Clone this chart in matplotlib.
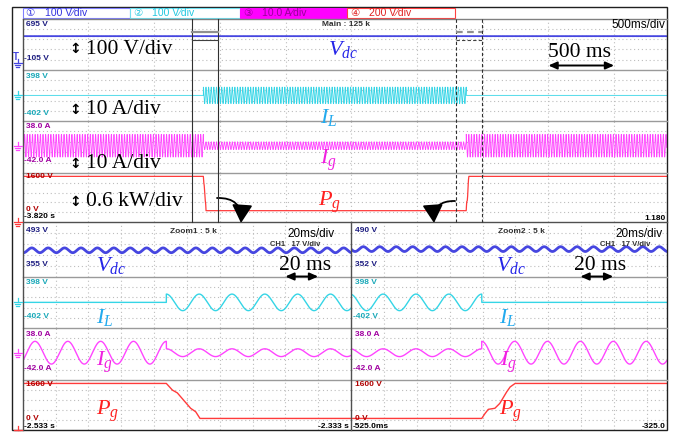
import numpy as np
import matplotlib
matplotlib.use("Agg")
import matplotlib.pyplot as plt
from matplotlib import transforms
from matplotlib.patches import Rectangle, FancyArrowPatch

plt.rcParams['mathtext.fontset'] = 'custom'
plt.rcParams['mathtext.rm'] = 'Liberation Serif'
plt.rcParams['mathtext.it'] = 'Liberation Serif:italic'

# ---------------- acquisition settings ----------------
channel_marks = ["\u2460", "\u2461", "\u2462", "\u2463"]
channel_scales = ["100 V\u2215div", "100 V\u2215div", "10.0 A\u2215div", "200 V\u2215div"]

main_start, main_div, main_visible_div = -3.820, 0.5, 9.8
zoom1_start, zoom_div, zoom1_visible_div = -2.533, 0.02, 10.0
zoom2_start, zoom2_visible_div = -0.525, 9.6

# vertical range of every strip (bottom, top)
main_ranges = [(-105, 695), (-402, 398), (-42.0, 38.0), (0, 1600)]
zoom1_ranges = [(355, 493), (-402, 398), (-42.0, 38.0), (0, 1600)]
zoom2_ranges = [(352, 490), (-402, 398), (-42.0, 38.0), (0, 1600)]

main_range_labels = [("695 V", "-105 V"), ("398 V", "-402 V"), ("38.0 A", "-42.0 A"), ("1600 V", "0 V")]
zoom1_range_labels = [("493 V", "355 V"), ("398 V", "-402 V"), ("38.0 A", "-42.0 A"), ("1600 V", "0 V")]
zoom2_range_labels = [("490 V", "352 V"), ("398 V", "-402 V"), ("38.0 A", "-42.0 A"), ("1600 V", "0 V")]

# ---------------- signal parameters ----------------
grid_freq = 50.0          # Hz
vdc_level = 422.0         # V
vdc_ripple = 6.0          # V, at twice the grid frequency
il_amp = 130.0            # probe units (10 A/div)
ig_amp_high = 17.5        # A
ig_amp_low = 6.0          # A
pg_high = 1490.0          # probe units (0.6 kW/div)
pg_low = 370.0
t_load_on = -2.4455       # s
t_load_off = -0.4455      # s
pg_fall_ms = [0.0, 3.7, 6.7, 14.8, 17.9, 20.5]
pg_fall_frac = [0.0, 0.19, 0.27, 0.71, 0.81, 1.0]
pg_rise_ms = [0.0, 2.0, 4.0, 8.0, 11.0, 15.2, 17.3, 20.3]
pg_rise_frac = [0.0, 0.14, 0.26, 0.29, 0.43, 0.76, 0.90, 1.0]

# ---------------- colours ----------------
trace_colors = ["#4646e0", "#35d5e6", "#ff45ff", "#ff3b3b"]
label_colors = ["#1c1c80", "#18a8b8", "#a000a0", "#b00000"]
name_colors = ["#2424e8", "#22aaee", "#f020e0", "#ff2020"]
names = [r"$V_{dc}$", r"$I_L$", r"$I_g$", r"$P_g$"]

W, H = 675, 432
fig = plt.figure(figsize=(W / 100, H / 100), dpi=100)
fig.patch.set_facecolor("white")


def rect(x0, y0, x1, y1):
    return [x0 / W, 1 - y1 / H, (x1 - x0) / W, (y1 - y0) / H]


ax0 = fig.add_axes([0, 0, 1, 1], zorder=5)
ax0.set_xlim(0, W)
ax0.set_ylim(H, 0)
ax0.axis("off")
ax0.patch.set_alpha(0)

LEFT, RIGHT, MID = 22.7, 666.7, 351.0
main_rows = [18.7, 70, 121, 173, 222]
zoom_rows = [222, 277, 328, 380, 430]


def make_strip(x0, x1, y0, y1, t0, tdiv, ndiv, ylim):
    ax = fig.add_axes(rect(x0, y0, x1, y1), zorder=2)
    ax.set_xlim(t0, t0 + tdiv * ndiv)
    ax.set_ylim(*ylim)
    ax.set_xticks(t0 + tdiv * np.arange(1, int(np.ceil(ndiv))))
    ax.set_yticks(np.linspace(ylim[0], ylim[1], 6)[1:-1])
    ax.grid(True, color="#bdbdbd", linestyle=(0, (1, 2.5)), linewidth=0.8)
    ax.tick_params(length=0, labelbottom=False, labelleft=False)
    for s in ax.spines.values():
        s.set_visible(False)
    ax.patch.set_alpha(0)
    return ax


main_axes = [make_strip(LEFT, RIGHT, main_rows[i], main_rows[i + 1], main_start, main_div,
                        main_visible_div, main_ranges[i]) for i in range(4)]
zoom1_axes = [make_strip(LEFT, MID, zoom_rows[i], zoom_rows[i + 1], zoom1_start, zoom_div,
                         zoom1_visible_div, zoom1_ranges[i]) for i in range(4)]
zoom2_axes = [make_strip(MID, RIGHT, zoom_rows[i], zoom_rows[i + 1], zoom2_start, zoom_div,
                         zoom2_visible_div, zoom2_ranges[i]) for i in range(4)]


def sample(ax, n):
    lo, hi = ax.get_xlim()
    t = np.linspace(lo, hi, n)
    edges = [s + d for s in (t_load_on, t_load_off) for d in (-1e-7, 1e-7) if lo < s < hi]
    return np.sort(np.concatenate([t, edges]))


def vdc_wave(t):
    return vdc_level + vdc_ripple * np.sin(2 * np.pi * 2 * grid_freq * t)


def il_wave(t):
    on = (t >= t_load_on) & (t < t_load_off)
    return np.where(on, il_amp * np.cos(2 * np.pi * grid_freq * (t - t_load_on)), 0.0)


def ig_wave(t):
    amp = np.where((t >= t_load_on) & (t < t_load_off), ig_amp_low, ig_amp_high)
    return amp * np.cos(2 * np.pi * grid_freq * (t - t_load_on))


def pg_trace():
    fall_t = t_load_on + np.array(pg_fall_ms) / 1000
    fall_v = pg_high - np.array(pg_fall_frac) * (pg_high - pg_low)
    rise_t = t_load_off + np.array(pg_rise_ms) / 1000
    rise_v = pg_low + np.array(pg_rise_frac) * (pg_high - pg_low)
    t = np.concatenate([[-10.0], fall_t, rise_t, [10.0]])
    v = np.concatenate([[pg_high], fall_v, rise_v, [pg_high]])
    return t, v


def draw_traces(axes, n, lws):
    t = sample(axes[0], n)
    axes[0].plot(t, vdc_wave(t), color=trace_colors[0], lw=lws[0])
    axes[1].plot(t, il_wave(t), color=trace_colors[1], lw=lws[1])
    axes[2].plot(t, ig_wave(t), color=trace_colors[2], lw=lws[2])
    pt, pv = pg_trace()
    axes[3].plot(pt, pv, color=trace_colors[3], lw=lws[3])


draw_traces(main_axes, 60000, [0.9, 0.6, 0.6, 0.9])
draw_traces(zoom1_axes, 6000, [2.0, 1.0, 1.0, 1.0])
draw_traces(zoom2_axes, 6000, [2.0, 1.0, 1.0, 1.0])

# ---------------- frame, separators ----------------
line_kw = dict(color="#9a9a9a", lw=1.0)
for y in main_rows[1:4] + zoom_rows[1:4]:
    ax0.plot([LEFT, RIGHT], [y, y], **line_kw)
ax0.plot([LEFT, RIGHT], [main_rows[0], main_rows[0]], color="#808080", lw=1.0)
ax0.plot([LEFT, RIGHT], [222, 222], color="#505050", lw=1.0)
ax0.plot([MID, MID], [222, 430], color="#505050", lw=1.0)
ax0.plot([LEFT, LEFT], [18.7, 430], color="#505050", lw=1.0)
ax0.add_patch(Rectangle((12, 6.7), RIGHT - 12, 430 - 6.7, fill=False, ec="#202020", lw=1.0))

# ---------------- header ----------------
header = [(22.7, 130, "#8080ff", "white", "#3030e0"),
          (130, 240, "#70e0f0", "white", "#20c8e0"),
          (240, 347, "#ff00ff", "#ff00ff", "#9a009a"),
          (347, 455, "#ff4040", "white", "#e02020")]
for (x0, x1, ec, fc, tc), mark, scale in zip(header, channel_marks, channel_scales):
    ax0.add_patch(Rectangle((x0, 7.5), x1 - x0, 10.5, fc=fc, ec=ec, lw=0.8))
    ax0.text(x0 + 3, 12.8, mark, color=tc, fontsize=7.5, va="center", ha="left",
             family=["DejaVu Sans"])
    ax0.text(x0 + 22, 12.8, scale, color=tc, fontsize=7.5, va="center", ha="left",
             family=["Liberation Sans", "DejaVu Sans"])

# ---------------- zoom window markers in the main view ----------------
mtr = transforms.blended_transform_factory(main_axes[0].transData, ax0.transData)
for (t0, ls) in [(zoom1_start, "-"), (zoom2_start, (0, (3, 2)))]:
    t1 = t0 + zoom_div * 10
    for tt in (t0, t1):
        ax0.plot([tt, tt], [18.7, 222], color="#303030", lw=0.8, ls=ls, transform=mtr)
    ax0.plot([t0, t1], [32.3, 32.3], color="#909090", lw=1.6, ls=ls, transform=mtr)
    ax0.plot([t0, t1], [40.3, 40.3], color="#404040", lw=0.8, ls=ls, transform=mtr)

# ---------------- scale arrows ----------------
def span_arrow(ax, t0, width, y):
    tr = transforms.blended_transform_factory(ax.transData, ax0.transData)
    ax0.annotate("", xy=(t0 + width, y), xytext=(t0, y), xycoords=tr, textcoords=tr,
                 arrowprops=dict(arrowstyle="<|-|>,head_length=0.5,head_width=0.22",
                                 color="black", lw=1.4, shrinkA=0, shrinkB=0))

span_arrow(main_axes[0], 0.18, 0.5, 65.5)
span_arrow(zoom1_axes[0], -2.373, 0.02, 276.5)
span_arrow(zoom2_axes[0], -0.3855, 0.02, 276.5)

serif = dict(family="Liberation Serif", fontsize=15.5, color="black", va="center")
ax0.text(580, 52.5, "500 ms", ha="center", **serif)
ax0.text(305, 265.5, "20 ms", ha="center", **serif)
ax0.text(600, 265.5, "20 ms", ha="center", **serif)

for y, s in [(49, "100 V/div"), (110, "10 A/div"), (164, "10 A/div"), (202, "0.6 kW/div")]:
    ax0.text(75, y, "\u2195", ha="center", va="center", fontsize=10, fontweight="bold",
             family="DejaVu Sans")
    ax0.text(86, y, s, ha="left", **serif)

# ---------------- trace names ----------------
name_pos_main = [(328, 50), (320, 117), (320, 160), (318, 202)]
name_pos_z1 = [(96, 266), (96, 318), (96, 362), (96, 411)]
name_pos_z2 = [(496, 266), (499, 318), (500, 362), (499, 411)]
for pos in (name_pos_main, name_pos_z1, name_pos_z2):
    for (x, y), nm, c in zip(pos, names, name_colors):
        ax0.text(x, y, nm, color=c, fontsize=16, ha="left", va="center")

# ---------------- scope readouts ----------------
small = dict(family="Liberation Sans", fontsize=6, fontweight="bold", va="center", ha="left")


def range_labels(labels, x_top, x_bot, y_pairs):
    for (top, bot), c, (yt, yb) in zip(labels, label_colors, y_pairs):
        ax0.text(x_top, yt, top, color=c, **small)
        ax0.text(x_bot if bot.startswith("-") else x_top, yb, bot, color=c, **small)

range_labels(main_range_labels, 26, 24.2,
             [(24.5, 58), (76, 113.5), (126.5, 161), (177, 209.5)])
range_labels(zoom1_range_labels, 26, 24.2,
             [(231, 265), (282, 316.7), (335, 368.5), (384, 418)])
range_labels(zoom2_range_labels, 355, 353,
             [(231, 265), (282, 317), (335, 368.5), (384, 418)])

ax0.text(322, 24, "Main : 125 k", color="#303030", **small)
ax0.text(170, 231.5, "Zoom1 : 5 k", color="#303030", **small)
ax0.text(498, 231.5, "Zoom2 : 5 k", color="#303030", **small)
ax0.text(270, 244, "CH1   17 V/div", color="#303030",
         **{**small, "fontsize": 5.5})
ax0.text(600, 244, "CH1   17 V/div", color="#303030",
         **{**small, "fontsize": 5.5})

div_font = dict(family="Liberation Sans", fontsize=8.5, color="black", va="center")
ax0.text(665, 25, "500ms/div", ha="right", **div_font)
ax0.text(287, 234, "20ms/div", ha="left", **div_font)
ax0.text(615, 234, "20ms/div", ha="left", **div_font)

ax0.text(24.2, 216.5, "-3.820 s", color="black", **small)
ax0.text(665.5, 218.5, "1.180", color="black", **{**small, "ha": "right"})
ax0.text(24.2, 426, "-2.533 s", color="black", **small)
ax0.text(349, 426, "-2.333 s", color="black", **{**small, "ha": "right"})
ax0.text(353, 426, "-525.0ms", color="black", **small)
ax0.text(665.5, 426, "-325.0", color="black", **{**small, "ha": "right"})

# ---------------- ground markers ----------------
def ground(ax, color):
    y = ax0.transData.inverted().transform(ax.transData.transform((ax.get_xlim()[0], 0)))[1]
    ax0.plot([14, 22], [y, y], color=color, lw=0.9)
    ax0.plot([15, 20], [y + 2, y + 2], color=color, lw=0.9)
    ax0.plot([16, 19], [y + 4, y + 4], color=color, lw=0.9)
    ax0.plot([17.5, 17.5], [y - 4, y], color=color, lw=0.9)

for ax, c in zip(main_axes, trace_colors):
    ground(ax, c)
for ax, c in zip(zoom1_axes[1:], trace_colors[1:]):
    ground(ax, c)
ax0.text(15.5, 57, "T", color=trace_colors[0], fontsize=7, fontweight="bold",
         ha="center", va="center", family="Liberation Sans")

# ---------------- curved arrows towards the zoomed views ----------------
for p0, p1, rad in [((217, 198), (241, 223), -0.55), ((455, 201), (434, 223), 0.55)]:
    ax0.add_patch(FancyArrowPatch(p0, p1, connectionstyle=f"arc3,rad={rad}",
                                  arrowstyle="-|>,head_length=0.8,head_width=0.45",
                                  mutation_scale=14, lw=1.3, color="black",
                                  shrinkA=0, shrinkB=0))

fig.savefig("out.png", dpi=100, facecolor="white")
